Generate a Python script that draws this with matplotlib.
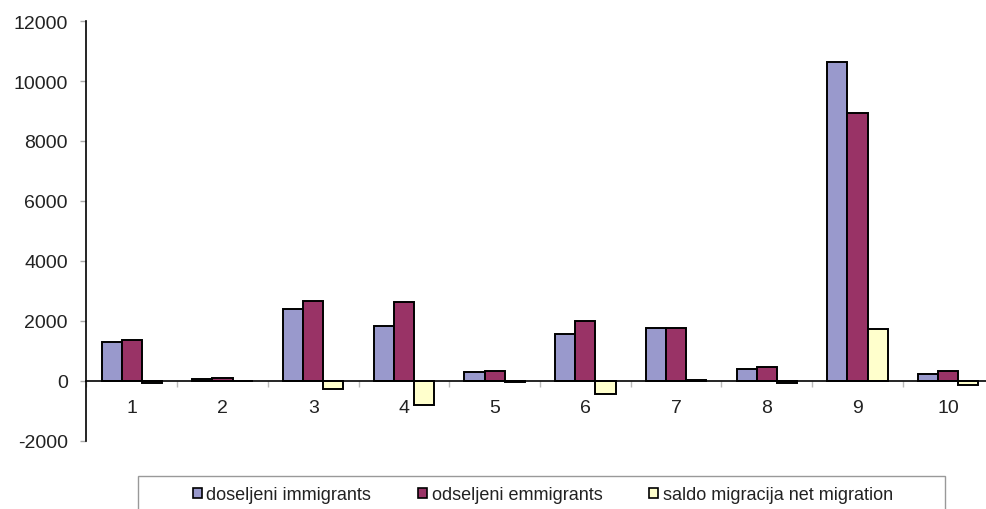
import numpy as np
import matplotlib
matplotlib.use("Agg")
import matplotlib.pyplot as plt
from matplotlib.patches import Patch, Rectangle

plt.rcParams['font.family'] = ['Liberation Sans', 'DejaVu Sans']
plt.rcParams['axes.unicode_minus'] = False

# Data
categories = ['1', '2', '3', '4', '5', '6', '7', '8', '9', '10']
immigrants = [1310, 80, 2400, 1845, 290, 1580, 1765, 400, 10640, 225]
emigrants = [1355, 90, 2660, 2645, 330, 2010, 1755, 455, 8920, 345]
net_migration = [-60, -10, -260, -800, -40, -430, 20, -50, 1720, -120]

series_labels = ['doseljeni immigrants', 'odseljeni emmigrants', 'saldo migracija net migration']
colors = ['#9999CC', '#993366', '#FFFFCC']

W, H = 987, 510
fig = plt.figure(figsize=(W / 100, H / 100), dpi=100)
ax = fig.add_axes([86.5 / W, (H - 442) / H, 907 / W, 420 / H])

x = np.arange(1, len(categories) + 1)
bw = 0.222
for k, vals in enumerate([immigrants, emigrants, net_migration]):
    ax.bar(x + (k - 1) * bw, vals, width=bw, color=colors[k],
           edgecolor='black', linewidth=1.4, zorder=3)

ax.set_xlim(0.5, len(categories) + 0.5)
ax.set_ylim(-2000, 12000)
ax.set_yticks(np.arange(-2000, 12001, 2000))

for side in ['top', 'right']:
    ax.spines[side].set_visible(False)
ax.spines['bottom'].set_position(('data', 0))
ax.spines['bottom'].set_linewidth(1.2)
ax.spines['bottom'].set_zorder(4)
ax.spines['left'].set_linewidth(1.2)

# y ticks
ax.tick_params(axis='y', direction='out', length=4.5, width=1, color='#aaaaaa',
               labelsize=14, pad=9, labelcolor='#222222')

# x: boundary ticks (major, no label) and category labels (minor, no tick)
ax.set_xticks(np.arange(0.5, len(categories) + 1, 1.0))
ax.set_xticklabels([])
ax.set_xticks(x, minor=True)
ax.set_xticklabels(categories, minor=True)
ax.tick_params(axis='x', which='major', direction='out', length=4.5, width=1, color='#bbbbbb')
ax.tick_params(axis='x', which='minor', length=0, pad=13, labelsize=14, labelcolor='#222222')

# legend
handles = [Patch(facecolor=c, edgecolor='black', linewidth=1.2) for c in colors]
fig.legend(handles, series_labels, loc='center', bbox_to_anchor=(543 / W, 1 - 496 / H),
           ncol=3, frameon=False, fontsize=13, handlelength=0.5, handleheight=0.5,
           handletextpad=0.25, columnspacing=2.6, borderpad=0, labelcolor='#222222')
fig.add_artist(Rectangle((138 / W, -0.05), (945 - 138) / W, 0.05 + (H - 477) / H,
                         transform=fig.transFigure, fill=False, edgecolor='#999999',
                         linewidth=1))

fig.savefig('out.png', dpi=100)
